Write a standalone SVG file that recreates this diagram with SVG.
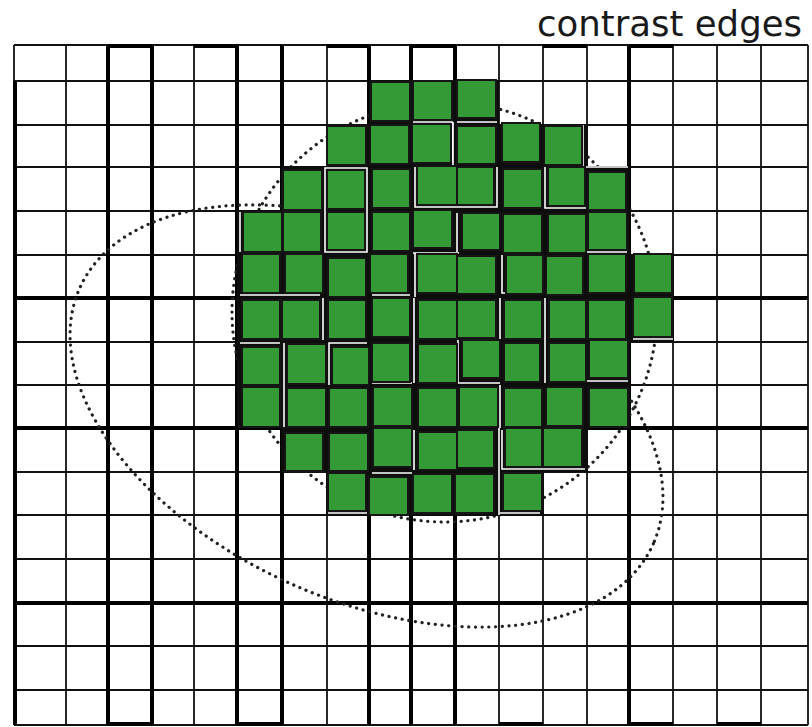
<svg xmlns="http://www.w3.org/2000/svg" width="812" height="727" viewBox="0 0 812 727">
<style>
.thin{stroke:#111;stroke-width:1.8;fill:none}
.thick{stroke:#000;stroke-width:4;fill:none}
.dots{stroke:#222;stroke-width:3.2;fill:none;stroke-linecap:round;stroke-dasharray:0.1 6.6}
.g{fill:#349a35;stroke:#151515;stroke-width:2}
.back{fill:#0d0d0d}
.wl{stroke:#fff;stroke-width:1.6;fill:none}
.lbl{font-family:"DejaVu Sans",Verdana,sans-serif;font-size:35.5px;fill:#1a1a1a}
</style>
<rect width="812" height="727" fill="#fff"/>
<g id="grid-thin">
<path class="thin" d="M14 45V725M66 45V725M108 45V725M152 45V725M194 45V725M237 45V725M282 45V725M327 45V725M369 45V725M411 45V725M455 45V725M499 45V725M543 45V725M587 45V725M629 45V725M673 45V725M717 45V725M761 45V725M808 45V725"/>
<path class="thin" d="M14 45H808M14 81H808M14 125H808M14 167H808M14 211H808M14 255H808M14 298H808M14 342H808M14 385H808M14 428H808M14 472H808M14 515H808M14 559H808M14 603H808M14 646H808M14 690H808M14 725H808"/>
</g>
<g id="grid-thick">
<path class="thick" d="M15 81V725M108 45V725M152 45V725M237 45V725M282 45V725M369 45V725M411 45V725M455 45V725M629 45V725"/>
<path class="thick" d="M14 298H808M14 428H808M14 603H808"/>
<path class="thick" d="M108 46H152M194 46H237M327 46H369M411 46H455M543 46H587M629 46H673"/>
<path class="thick" d="M108 724H152M237 724H282M499 724H543M629 724H673M717 724H761"/>
</g>
<g id="contours">
<ellipse class="dots" cx="444.5" cy="312" rx="212.5" ry="210"/>
<ellipse class="dots" cx="366.5" cy="416" rx="314" ry="184" transform="rotate(24 366.5 416)"/>
</g>
<g id="backdrop">
<path class="back" d="M369 80H499V125H369Z M326 124H588V167H326Z M281 166H630V211H281Z M237 210H630V255H237Z M237 254H674V298H237Z M237 297H674V342H237Z M237 341H630V385H237Z M237 384H630V428H237Z M281 427H588V472H281Z M326 471H544V516H326Z"/>
</g>
<g id="gaps">
<path class="wl" d="M325 168H367V252H325Z M415 167V207H460 M413 122H452V162 M413 253H459 M415 253V297 M240 295H320 M240 212V252 M457 122H497 M453 122V165 M497 167V207H457 M545 167V208H586 M583 125V167H628 M457 213V252 M587 252H627 M502 255V293H542"/>
<path class="wl" d="M372 295H410 M323 298V340 M240 343H280 M284 343V427 M329 385V343H367 M372 383H412 M414 298V383 M414 430V470 M372 473H412 M328 513H367 M458 340V383H500 M500 298V340 M545 298V383 M587 381H628 M500 385V428 M633 339H673 M499 428V515 M502 430V469H585 M500 513H540"/>
</g>
<g id="region">
<rect class="g" x="371" y="82" width="39" height="39"/>
<rect class="g" x="413" y="81" width="39" height="39"/>
<rect class="g" x="457" y="80" width="39" height="38"/>

<rect class="g" x="327" y="126" width="39" height="39"/>
<rect class="g" x="370" y="125" width="39" height="39"/>
<rect class="g" x="412" y="124" width="39" height="39"/>
<rect class="g" x="457" y="126" width="39" height="38"/>
<rect class="g" x="502" y="123" width="38" height="39"/>
<rect class="g" x="544" y="126" width="38" height="39"/>

<rect class="g" x="283" y="170" width="39" height="40"/>
<rect class="g" x="327" y="170" width="38" height="39"/>
<rect class="g" x="372" y="169" width="38" height="39"/>
<rect class="g" x="417" y="166" width="40" height="39"/>
<rect class="g" x="457" y="167" width="37" height="38"/>
<rect class="g" x="503" y="169" width="39" height="39"/>
<rect class="g" x="548" y="167" width="37" height="39"/>
<rect class="g" x="588" y="172" width="38" height="38"/>

<rect class="g" x="243" y="212" width="39" height="40"/>
<rect class="g" x="283" y="212" width="38" height="40"/>
<rect class="g" x="327" y="212" width="38" height="38"/>
<rect class="g" x="372" y="212" width="38" height="39"/>
<rect class="g" x="413" y="210" width="39" height="38"/>
<rect class="g" x="462" y="213" width="38" height="37"/>
<rect class="g" x="503" y="214" width="39" height="39"/>
<rect class="g" x="548" y="214" width="38" height="39"/>
<rect class="g" x="588" y="212" width="39" height="38"/>

<rect class="g" x="242" y="254" width="38" height="39"/>
<rect class="g" x="285" y="254" width="38" height="39"/>
<rect class="g" x="328" y="258" width="38" height="39"/>
<rect class="g" x="370" y="254" width="38" height="39"/>
<rect class="g" x="417" y="254" width="40" height="39"/>
<rect class="g" x="457" y="256" width="39" height="38"/>
<rect class="g" x="506" y="255" width="37" height="39"/>
<rect class="g" x="546" y="256" width="37" height="39"/>
<rect class="g" x="588" y="254" width="38" height="39"/>
<rect class="g" x="634" y="254" width="38" height="39"/>

<rect class="g" x="242" y="300" width="38" height="39"/>
<rect class="g" x="282" y="300" width="38" height="39"/>
<rect class="g" x="328" y="300" width="38" height="39"/>
<rect class="g" x="372" y="298" width="38" height="39"/>
<rect class="g" x="418" y="300" width="39" height="39"/>
<rect class="g" x="457" y="300" width="39" height="38"/>
<rect class="g" x="504" y="300" width="38" height="39"/>
<rect class="g" x="549" y="300" width="37" height="39"/>
<rect class="g" x="588" y="300" width="38" height="39"/>
<rect class="g" x="633" y="297" width="39" height="40"/>

<rect class="g" x="242" y="347" width="38" height="38"/>
<rect class="g" x="287" y="344" width="39" height="40"/>
<rect class="g" x="332" y="347" width="37" height="38"/>
<rect class="g" x="372" y="343" width="38" height="39"/>
<rect class="g" x="418" y="344" width="39" height="39"/>
<rect class="g" x="462" y="340" width="38" height="38"/>
<rect class="g" x="504" y="343" width="36" height="39"/>
<rect class="g" x="549" y="343" width="37" height="39"/>
<rect class="g" x="589" y="340" width="39" height="38"/>

<rect class="g" x="242" y="387" width="38" height="40"/>
<rect class="g" x="287" y="388" width="39" height="39"/>
<rect class="g" x="329" y="388" width="39" height="39"/>
<rect class="g" x="373" y="387" width="39" height="39"/>
<rect class="g" x="418" y="388" width="39" height="39"/>
<rect class="g" x="459" y="387" width="39" height="40"/>
<rect class="g" x="504" y="388" width="38" height="39"/>
<rect class="g" x="546" y="387" width="37" height="39"/>
<rect class="g" x="589" y="388" width="39" height="39"/>

<rect class="g" x="285" y="433" width="38" height="38"/>
<rect class="g" x="329" y="433" width="39" height="38"/>
<rect class="g" x="373" y="428" width="39" height="39"/>
<rect class="g" x="418" y="432" width="39" height="38"/>
<rect class="g" x="457" y="430" width="37" height="38"/>
<rect class="g" x="505" y="428" width="37" height="39"/>
<rect class="g" x="543" y="428" width="39" height="39"/>

<rect class="g" x="328" y="473" width="38" height="38"/>
<rect class="g" x="369" y="477" width="39" height="38"/>
<rect class="g" x="413" y="474" width="39" height="39"/>
<rect class="g" x="455" y="474" width="39" height="39"/>
<rect class="g" x="503" y="473" width="39" height="38"/>
</g>
<g id="label">
<text class="lbl" x="802" y="36" text-anchor="end">contrast edges</text>
</g>
</svg>
